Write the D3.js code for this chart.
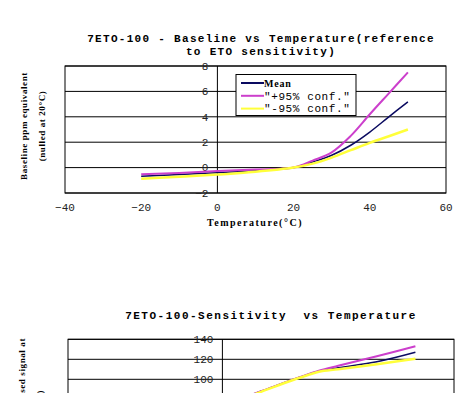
<!DOCTYPE html>
<html>
<head>
<meta charset="utf-8">
<script src="https://cdn.jsdelivr.net/npm/d3@7"></script>
<style>
  body { margin: 0; background: #fff; }
  svg { display: block; }
  .mono { font-family: "Liberation Mono", "DejaVu Sans Mono", monospace; }
  .serif { font-family: "Liberation Serif", "DejaVu Serif", serif; font-weight: bold; }
</style>
</head>
<body>
<div id="chart"></div>
<script>
// chart 1 - baseline vs temperature
var baseTemps = [-20, -10, 0, 10, 20, 25, 30, 35, 40, 45, 50];
var baseMean  = [-0.69, -0.55, -0.4, -0.25, 0, 0.44, 0.97, 1.76, 2.8, 4.0, 5.18];
var basePlus  = [-0.53, -0.42, -0.27, -0.15, 0, 0.55, 1.2, 2.5, 4.2, 5.85, 7.5];
var baseMinus = [-0.87, -0.72, -0.55, -0.33, 0, 0.31, 0.79, 1.37, 1.95, 2.47, 3.0];
var baseYTicks = [-2, 0, 2, 4, 6, 8];

// chart 2 - sensitivity vs temperature
var sensTemps = [-20, -10, 0, 10, 20, 25, 30, 40, 50];
var sensMean  = [47, 60, 74, 88, 102, 108, 111.5, 117.5, 127];
var sensPlus  = [47, 60, 74, 88, 102, 108.5, 113.5, 123, 133];
var sensMinus = [46, 59, 73, 87.5, 101.5, 107.5, 110, 115, 120.5];
var sensYTicks = [0, 20, 40, 60, 80, 100, 120, 140];

var xTicks = [-40, -20, 0, 20, 40, 60];
var seriesNames = ['Mean', '"+95% conf."', '"-95% conf."'];
var seriesColors = ['#0a0a60', '#cc3fcc', '#ffff3a'];
var seriesWidths = [1.5, 2, 2.5];

var width = 471, height = 393;
var svg = d3.select("#chart").append("svg")
    .attr("width", width)
    .attr("height", height);

function fmt(d) { return d < 0 ? "\u2212" + Math.abs(d) : d; }

function drawChart(opt) {
    var x = d3.scaleLinear().domain([-40, 60]).range([opt.left, opt.right]);
    var y = d3.scaleLinear().domain(opt.yDomain).range([opt.bottom, opt.top]);
    var g = svg.append("g");

    // gridlines
    g.selectAll("line.grid")
        .data(opt.yTicks)
        .join("line")
        .attr("x1", opt.left).attr("x2", opt.right)
        .attr("y1", d => y(d)).attr("y2", d => y(d))
        .attr("stroke", "#000").attr("stroke-width", 1);

    // plot border
    g.append("rect")
        .attr("x", opt.left).attr("y", opt.top)
        .attr("width", opt.right - opt.left).attr("height", opt.bottom - opt.top)
        .attr("fill", "none").attr("stroke", "#000");

    // y axis sits at x = 0
    g.append("line")
        .attr("x1", x(0)).attr("x2", x(0))
        .attr("y1", opt.top).attr("y2", opt.bottom)
        .attr("stroke", "#000");

    // only label what fits in the window
    g.selectAll("text.ytick")
        .data(opt.yTicks.filter(d => y(d) < height - 6))
        .join("text")
        .attr("class", "mono")
        .attr("x", x(0) - 9)
        .attr("y", d => y(d))
        .attr("dy", "0.35em")
        .attr("text-anchor", "end")
        .attr("font-size", 11)
        .attr("fill", "#222")
        .text(fmt);

    g.selectAll("text.xtick")
        .data(opt.bottom + 20 < height ? xTicks : [])
        .join("text")
        .attr("class", "mono")
        .attr("x", d => x(d))
        .attr("y", opt.bottom + 14)
        .attr("dy", "0.35em")
        .attr("text-anchor", "middle")
        .attr("font-size", 11)
        .attr("fill", "#222")
        .text(fmt);

    var line = d3.line()
        .x((d, i) => x(opt.temps[i]))
        .y(d => y(d))
        .curve(d3.curveCatmullRom);

    opt.series.forEach(function(s, i) {
        g.append("path")
            .attr("d", line(s))
            .attr("fill", "none")
            .attr("stroke", seriesColors[i])
            .attr("stroke-width", seriesWidths[i]);
    });
}

drawChart({
    left: 65, right: 446, top: 66, bottom: 193,
    yDomain: [-2, 8], yTicks: baseYTicks,
    temps: baseTemps, series: [baseMean, basePlus, baseMinus]
});

drawChart({
    left: 68, right: 454, top: 339.3, bottom: 479.3,
    yDomain: [0, 140], yTicks: sensYTicks,
    temps: sensTemps, series: [sensMean, sensPlus, sensMinus]
});

// titles
var title1 = ["7ETO-100 - Baseline vs Temperature(reference", "to ETO sensitivity)"];
svg.selectAll("text.t1")
    .data(title1)
    .join("text")
    .attr("class", "mono")
    .attr("x", 261)
    .attr("y", (d, i) => 42 + i * 13)
    .attr("text-anchor", "middle")
    .attr("font-size", 11)
    .attr("font-weight", "bold")
    .attr("letter-spacing", 1.3)
    .text(d => d);

svg.append("text")
    .attr("class", "mono")
    .attr("x", 271).attr("y", 319)
    .attr("text-anchor", "middle")
    .attr("font-size", 11)
    .attr("font-weight", "bold")
    .attr("letter-spacing", 1.5)
    .attr("xml:space", "preserve")
    .text("7ETO-100-Sensitivity  vs Temperature");

// axis titles
svg.append("text")
    .attr("class", "serif")
    .attr("x", 255).attr("y", 226)
    .attr("text-anchor", "middle")
    .attr("font-size", 10)
    .attr("letter-spacing", 1.5)
    .text("Temperature(\u00B0C)");

var yTitle1 = ["Baseline ppm equivalent", "(nulled at 20\u00B0C)"];
svg.selectAll("text.yt1")
    .data(yTitle1)
    .join("text")
    .attr("class", "serif")
    .attr("transform", (d, i) => "translate(" + (27 + i * 18) + ",126) rotate(-90)")
    .attr("text-anchor", "middle")
    .attr("font-size", 9)
    .attr("letter-spacing", 0.6)
    .text(d => d);

// second chart's y title runs off the bottom of the window, as in the original
svg.append("text")
    .attr("class", "serif")
    .attr("transform", "translate(25,338) rotate(-90)")
    .attr("text-anchor", "end")
    .attr("font-size", 9)
    .attr("letter-spacing", 0.6)
    .text("Normalised signal at");

svg.append("text")
    .attr("class", "serif")
    .attr("transform", "translate(43,390) rotate(-90)")
    .attr("text-anchor", "end")
    .attr("font-size", 9)
    .attr("letter-spacing", 0.6)
    .text("20\u00B0C (%)");

// legend
var legend = svg.append("g");
legend.append("rect")
    .attr("x", 236).attr("y", 74.5)
    .attr("width", 120).attr("height", 41)
    .attr("fill", "#fff").attr("stroke", "#000");

seriesNames.forEach(function(name, i) {
    var ly = 83 + i * 12.8;
    legend.append("line")
        .attr("x1", 241).attr("x2", 264)
        .attr("y1", ly).attr("y2", ly)
        .attr("stroke", seriesColors[i])
        .attr("stroke-width", 2);
    legend.append("text")
        .attr("class", i == 0 ? "serif" : "mono")
        .attr("x", 264).attr("y", ly)
        .attr("dy", "0.35em")
        .attr("font-size", i == 0 ? 10 : 11)
        .attr("letter-spacing", i == 0 ? 0.8 : 0.6)
        .text(name);
});
</script>
</body>
</html>
